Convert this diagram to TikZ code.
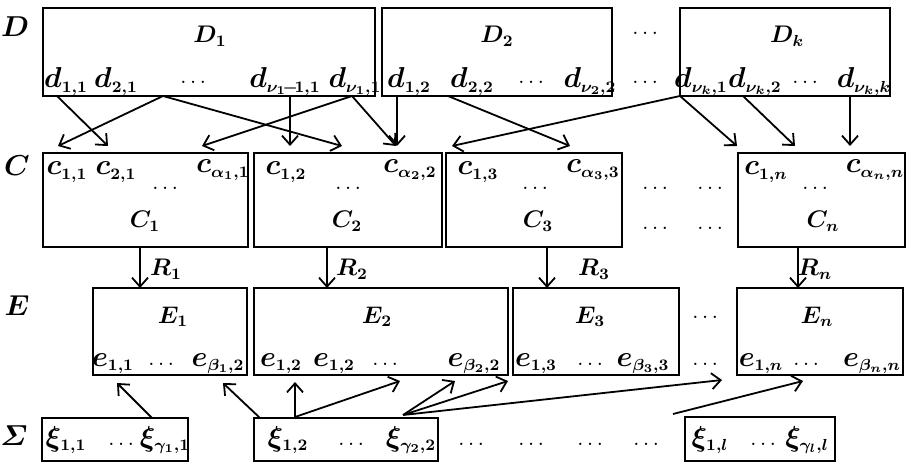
\documentclass[tikz,border=0pt]{standalone}
\usepackage{amsmath}
\DeclareMathSizes{14}{14}{8.5}{6.5}
\DeclareMathSizes{12}{12}{8}{6}
\usetikzlibrary{arrows.meta,fit}
\tikzset{
  box/.style={draw, line width=0.9pt, inner sep=0pt},
  el/.style={font=\fontsize{14}{16}\selectfont\boldmath, inner sep=0pt, anchor=base},
  lab/.style={font=\fontsize{12}{14}\selectfont\boldmath, inner sep=0pt, anchor=base},
  rowlab/.style={font=\fontsize{15}{17}\selectfont\boldmath, inner sep=0pt},
  dd/.style={font=\fontsize{11}{12}\selectfont, inner sep=0pt, anchor=base},
  arr/.style={-{Straight Barb[length=4.5pt,width=8pt]}, line width=0.9pt},
}
\begin{document}
\begin{tikzpicture}[x=0.5pt,y=-0.5pt]
\useasboundingbox (0,0) rectangle (908,464);
% row labels
\node[rowlab] (LD) at (15,27) {$D$};
\node[rowlab] (LC) at (17,166) {$C$};
\node[rowlab] (LE) at (17,306) {$E$};
\node[rowlab] (LS) at (14,436) {$\varSigma$};
% D boxes
\node[box, fit={(43,8) (375,96)}] (D1) {};
\node[box, fit={(382,8) (612,96)}] (D2) {};
\node[box, fit={(680,8) (890,96)}] (Dk) {};
\node[lab] (D1l) at (210,43) {$D_1$};
\node[lab] (D2l) at (497,43) {$D_2$};
\node[lab] (Dkl) at (787,43) {$D_k$};
\node[el] (d11) at (66,88) {$d_{1,1}$};
\node[el] (d21) at (116,88) {$d_{2,1}$};
\node[dd] (dD1) at (195,84) {$\dots$};
\node[el] (dv11) at (285,88) {$d_{\nu_1\mkern-3mu-\mkern-3mu1,1}$};
\node[el] (dv1) at (355,88) {$d_{\nu_1,1}$};
\node[el] (d12) at (409,88) {$d_{1,2}$};
\node[el] (d22) at (472,88) {$d_{2,2}$};
\node[dd] (dD2) at (533,84) {$\dots$};
\node[el] (dv2) at (590,88) {$d_{\nu_2,2}$};
\node[dd] (dDa) at (647,35) {$\dots$};
\node[dd] (dDb) at (647,84) {$\dots$};
\node[el] (dk1) at (701,88) {$d_{\nu_k,1}$};
\node[el] (dk2) at (755,88) {$d_{\nu_k,2}$};
\node[dd] (dDk) at (807,84) {$\dots$};
\node[el] (dkk) at (864,88) {$d_{\nu_k,k}$};
% C boxes
\node[box, fit={(43,153) (248,247)}] (C1) {};
\node[box, fit={(254,153) (442,247)}] (C2) {};
\node[box, fit={(446,153) (622,247)}] (C3) {};
\node[box, fit={(738,153) (905,247)}] (Cn) {};
\node[el] (c11) at (67,175) {$c_{1,1}$};
\node[el] (c21) at (116,175) {$c_{2,1}$};
\node[dd] (dC1) at (167,190) {$\dots$};
\node[el] (ca1) at (223,173) {$c_{\alpha_1,1}$};
\node[lab] (C1l) at (145,228) {$C_1$};
\node[el] (c12) at (286,175) {$c_{1,2}$};
\node[dd] (dC2) at (350,190) {$\dots$};
\node[el] (ca2) at (410,173) {$c_{\alpha_2,2}$};
\node[lab] (C2l) at (347,228) {$C_2$};
\node[el] (c13) at (478,175) {$c_{1,3}$};
\node[dd] (dC3) at (537,190) {$\dots$};
\node[el] (ca3) at (593,173) {$c_{\alpha_3,3}$};
\node[lab] (C3l) at (538,228) {$C_3$};
\node[dd] (dCa) at (657,190) {$\dots$};
\node[dd] (dCb) at (712,190) {$\dots$};
\node[dd] (dCc) at (657,230) {$\dots$};
\node[dd] (dCd) at (712,230) {$\dots$};
\node[el] (c1n) at (766,175) {$c_{1,n}$};
\node[dd] (dCn) at (817,190) {$\dots$};
\node[el] (can) at (875,173) {$c_{\alpha_n,n}$};
\node[lab] (Cnl) at (823,228) {$C_n$};
% E boxes
\node[box, fit={(93,288) (247,375)}] (E1) {};
\node[box, fit={(254,288) (508,375)}] (E2) {};
\node[box, fit={(513,288) (679,375)}] (E3) {};
\node[box, fit={(737,288) (903,375)}] (En) {};
\node[lab] (E1l) at (173,323) {$E_1$};
\node[lab] (E2l) at (377,323) {$E_2$};
\node[lab] (E3l) at (590,323) {$E_3$};
\node[lab] (Enl) at (817,323) {$E_n$};
\node[el] (e11) at (113,366) {$e_{1,1}$};
\node[dd] (dE1) at (163,365) {$\dots$};
\node[el] (eb1) at (218,366) {$e_{\beta_1,2}$};
\node[el] (e12) at (281,366) {$e_{1,2}$};
\node[el] (e12b) at (334,366) {$e_{1,2}$};
\node[dd] (dE2) at (387,365) {$\dots$};
\node[el] (eb2) at (474,366) {$e_{\beta_2,2}$};
\node[el] (e13) at (536,366) {$e_{1,3}$};
\node[dd] (dE3) at (592,365) {$\dots$};
\node[el] (eb3) at (643,366) {$e_{\beta_3,3}$};
\node[dd] (dEa) at (707,318) {$\dots$};
\node[dd] (dEb) at (707,365) {$\dots$};
\node[el] (e1n) at (761,366) {$e_{1,n}$};
\node[dd] (dEn) at (808,365) {$\dots$};
\node[el] (ebn) at (872,366) {$e_{\beta_n,n}$};
% Sigma boxes
\node[box, fit={(42,418) (188,461)}] (S1) {};
\node[box, fit={(254,418) (438,461)}] (S2) {};
\node[box, fit={(685,417) (835,461)}] (Sl) {};
\node[el] (x11) at (66,446) {$\xi_{1,1}$};
\node[dd] (dS1) at (123,445) {$\dots$};
\node[el] (xg1) at (165,446) {$\xi_{\gamma_1,1}$};
\node[el] (x12) at (288,446) {$\xi_{1,2}$};
\node[dd] (dS2) at (353,445) {$\dots$};
\node[el] (xg2) at (411,446) {$\xi_{\gamma_2,2}$};
\node[dd] (dSa) at (473,445) {$\dots$};
\node[dd] (dSb) at (533,445) {$\dots$};
\node[dd] (dSc) at (592,445) {$\dots$};
\node[dd] (dSd) at (648,445) {$\dots$};
\node[el] (x1l) at (710,446) {$\xi_{1,l}$};
\node[dd] (dSl) at (765,445) {$\dots$};
\node[el] (xgl) at (807,446) {$\xi_{\gamma_l,l}$};
% connector end points
\coordinate (pa) at (57,96);   \coordinate (qa) at (108,146);
\coordinate (pb) at (163,96);  \coordinate (qb) at (58,146);
                               \coordinate (qc) at (342,146);
\coordinate (pd) at (290,96);  \coordinate (qd) at (290,146);
\coordinate (pe) at (352,96);  \coordinate (qe) at (202,146);
                               \coordinate (qf) at (396,146);
\coordinate (pg) at (397,96);  \coordinate (qg) at (397,146);
\coordinate (ph) at (448,96);  \coordinate (qh) at (570,146);
\coordinate (pi) at (680,96);  \coordinate (qi) at (452,146);
                               \coordinate (qj) at (737,146);
\coordinate (pk) at (743,96);  \coordinate (qk) at (795,146);
\coordinate (pl) at (850,96);  \coordinate (ql) at (850,146);
\draw[arr] (pa) -- (qa);
\draw[arr] (pb) -- (qb);
\draw[arr] (pb) -- (qc);
\draw[arr] (pd) -- (qd);
\draw[arr] (pe) -- (qe);
\draw[arr] (pe) -- (qf);
\draw[arr] (pg) -- (qg);
\draw[arr] (ph) -- (qh);
\draw[arr] (pi) -- (qi);
\draw[arr] (pi) -- (qj);
\draw[arr] (pk) -- (qk);
\draw[arr] (pl) -- (ql);
% R arrows
\coordinate (r1a) at (140,247); \coordinate (r1b) at (140,288);
\coordinate (r2a) at (327,247); \coordinate (r2b) at (327,288);
\coordinate (r3a) at (547,247); \coordinate (r3b) at (547,288);
\coordinate (rna) at (798,247); \coordinate (rnb) at (798,288);
\draw[arr] (r1a) -- (r1b);
\draw[arr] (r2a) -- (r2b);
\draw[arr] (r3a) -- (r3b);
\draw[arr] (rna) -- (rnb);
\node[lab] (R1) at (166,276) {$R_1$};
\node[lab] (R2) at (352,276) {$R_2$};
\node[lab] (R3) at (594,276) {$R_3$};
\node[lab] (Rn) at (815,276) {$R_n$};
% Sigma -> E arrows
\coordinate (sa) at (152,418); \coordinate (ta) at (117,383);
\coordinate (sb) at (260,418); \coordinate (tb) at (223,383);
\coordinate (sc) at (295,417); \coordinate (tc) at (295,382);
                               \coordinate (td) at (400,381);
\coordinate (se) at (403,415); \coordinate (te) at (455,381);
                               \coordinate (tf) at (508,381);
                               \coordinate (tg) at (722,380);
\coordinate (sh) at (673,414); \coordinate (th) at (803,381);
\draw[arr] (sa) -- (ta);
\draw[arr] (sb) -- (tb);
\draw[arr] (sc) -- (tc);
\draw[arr] (sc) -- (td);
\draw[arr] (se) -- (te);
\draw[arr] (se) -- (tf);
\draw[arr] (se) -- (tg);
\draw[arr] (sh) -- (th);
\end{tikzpicture}
\end{document}
